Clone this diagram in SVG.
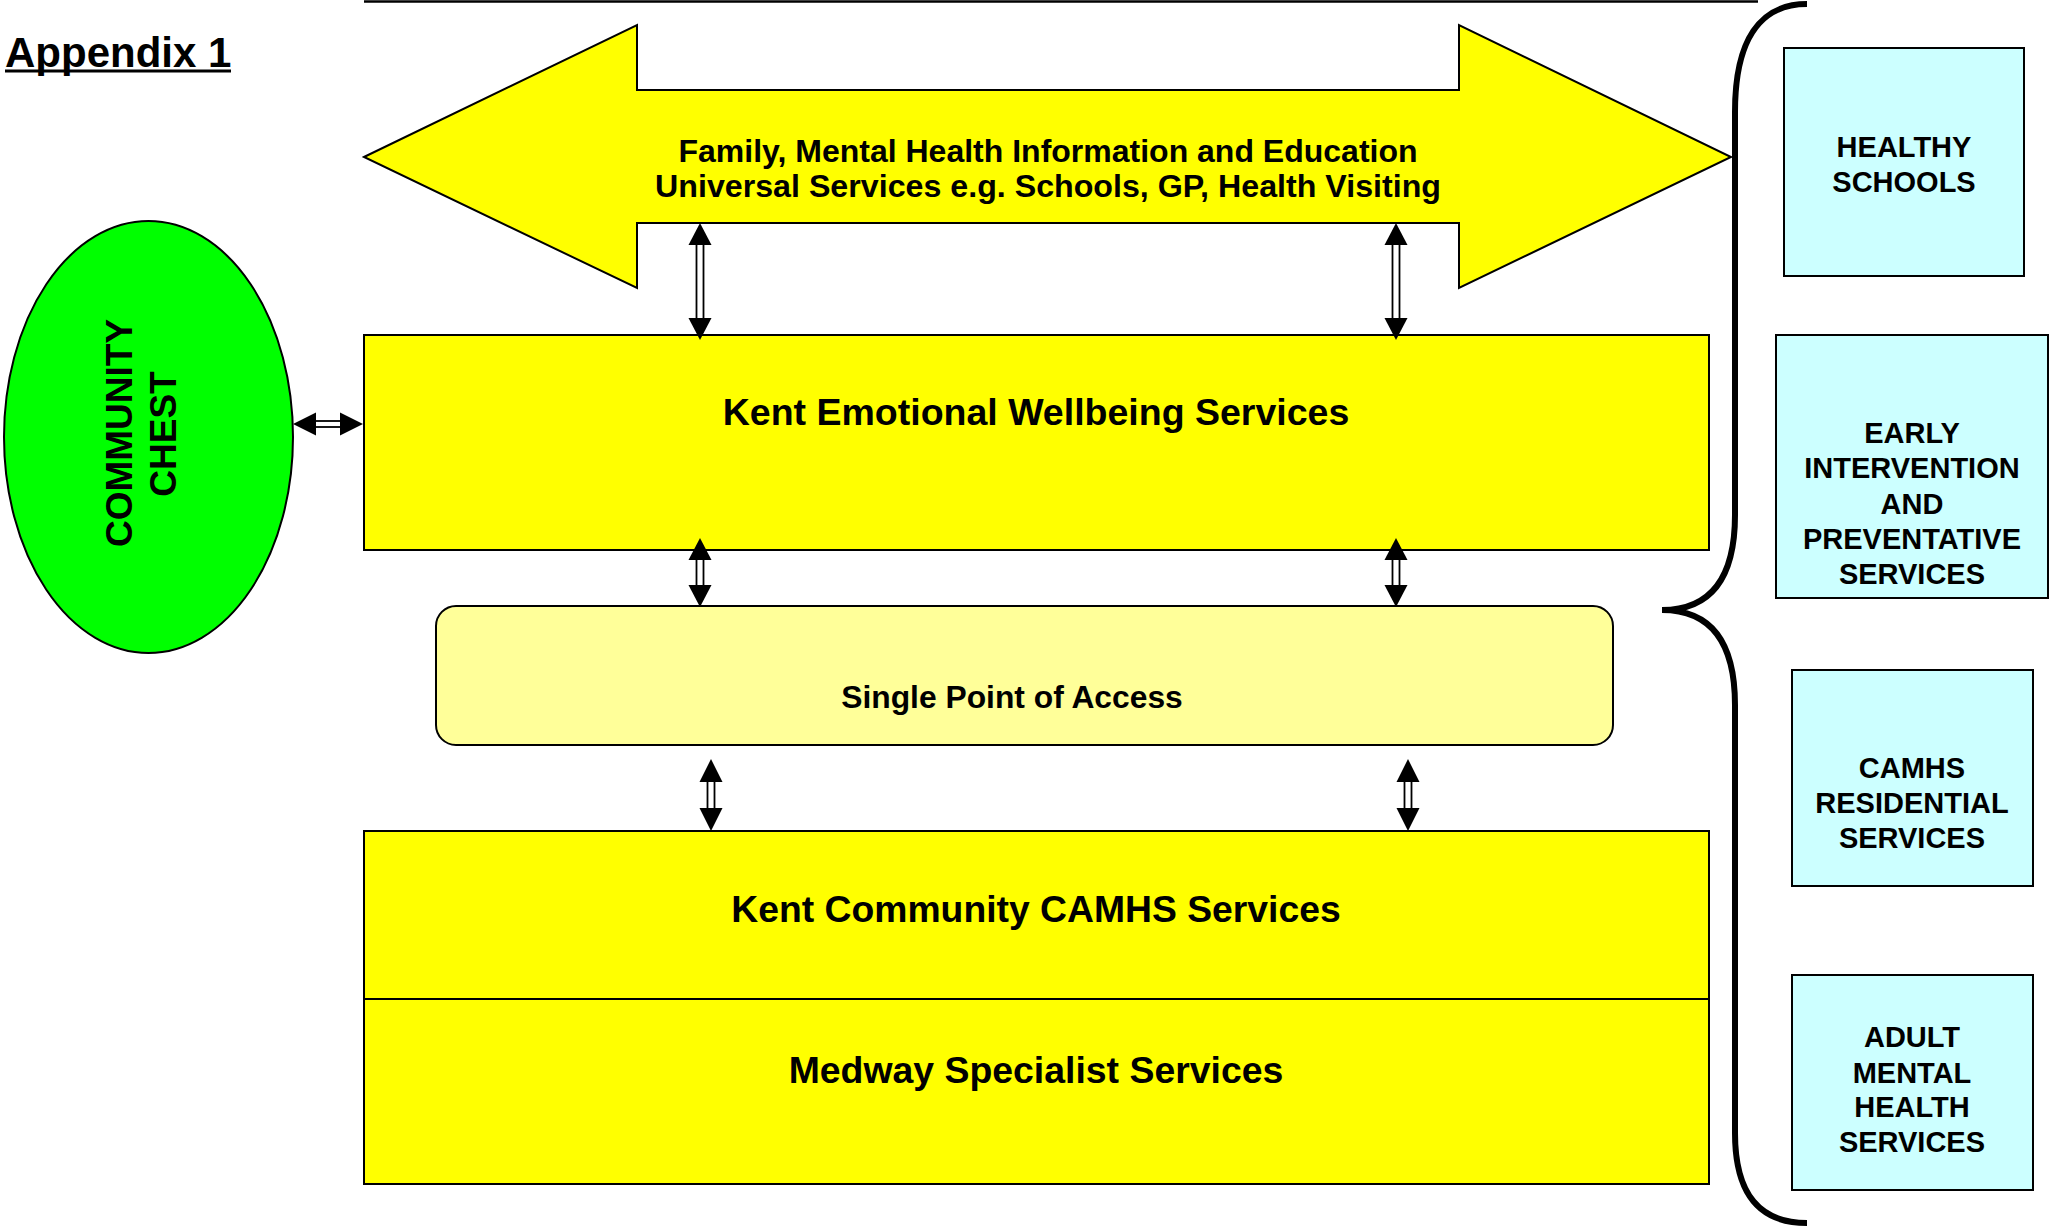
<svg xmlns="http://www.w3.org/2000/svg" width="2049" height="1229" viewBox="0 0 2049 1229">
<style>
text{font-family:"Liberation Sans",Arial,sans-serif;font-weight:bold;fill:#000;}
.yb{fill:#FFFF00;stroke:#000;stroke-width:2;}
.cy{fill:#CCFFFF;stroke:#000;stroke-width:2;}
.hd{fill:#000;stroke:none;}
.sh{fill:#fff;stroke:#000;stroke-width:1.8;}
.mid{text-anchor:middle;}
</style>
<rect width="2049" height="1229" fill="#fff"/>

<g id="title">
<text x="5" y="67" font-size="42">Appendix 1</text>
<line x1="5" y1="71" x2="231" y2="71" stroke="#000" stroke-width="3"/>
</g>

<line x1="364" y1="1.5" x2="1758" y2="1.5" stroke="#000" stroke-width="2.5"/>

<g id="brace">
<path d="M1807 4 C1760 4 1735 40 1735 112 L1735 515 C1735 577 1712 610 1662 610 C1712 610 1735 643 1735 705 L1735 1133 C1735 1195 1760 1223 1807 1223" fill="none" stroke="#000" stroke-width="6"/>
</g>

<g id="universal">
<polygon class="yb" stroke-width="1.6" points="364,157 637,25 637,90 1459,90 1459,25 1731,157 1459,288 1459,223 637,223 637,288"/>
<text class="mid" x="1048" y="162" font-size="32">Family, Mental Health Information and Education</text>
<text class="mid" x="1048" y="197" font-size="32.2">Universal Services e.g. Schools, GP, Health Visiting</text>
</g>

<g id="community-chest">
<ellipse cx="148.5" cy="437" rx="144.5" ry="216" fill="#00FF00" stroke="#000" stroke-width="2"/>
<text class="mid" font-size="37" transform="translate(132,433) rotate(-90)">COMMUNITY</text>
<text class="mid" font-size="37" transform="translate(176,434) rotate(-90)">CHEST</text>
</g>

<g id="kent-emotional">
<rect class="yb" x="364" y="335" width="1345" height="215"/>
<text class="mid" x="1036" y="425" font-size="37.5">Kent Emotional Wellbeing Services</text>
</g>

<g id="single-point">
<rect x="436" y="606" width="1177" height="139" rx="20" ry="20" fill="#FFFF99" stroke="#000" stroke-width="2"/>
<text class="mid" x="1012" y="708" font-size="31.8">Single Point of Access</text>
</g>

<g id="kent-camhs">
<rect class="yb" x="364" y="831" width="1345" height="168"/>
<text class="mid" x="1036" y="922" font-size="37.3">Kent Community CAMHS Services</text>
</g>

<g id="medway">
<rect class="yb" x="364" y="999" width="1345" height="185"/>
<text class="mid" x="1036" y="1083" font-size="37.4">Medway Specialist Services</text>
</g>

<g id="healthy-schools">
<rect class="cy" x="1784" y="48" width="240" height="228"/>
<text class="mid" x="1904" y="157" font-size="29">HEALTHY</text>
<text class="mid" x="1904" y="192" font-size="29">SCHOOLS</text>
</g>

<g id="early-intervention">
<rect class="cy" x="1776" y="335" width="272" height="263"/>
<text class="mid" x="1912" y="443" font-size="29">EARLY</text>
<text class="mid" x="1912" y="478" font-size="29">INTERVENTION</text>
<text class="mid" x="1912" y="514" font-size="29">AND</text>
<text class="mid" x="1912" y="549" font-size="29">PREVENTATIVE</text>
<text class="mid" x="1912" y="584" font-size="29">SERVICES</text>
</g>

<g id="camhs-residential">
<rect class="cy" x="1792" y="670" width="241" height="216"/>
<text class="mid" x="1912" y="778" font-size="29">CAMHS</text>
<text class="mid" x="1912" y="813" font-size="29">RESIDENTIAL</text>
<text class="mid" x="1912" y="848" font-size="29">SERVICES</text>
</g>

<g id="adult-mental-health">
<rect class="cy" x="1792" y="975" width="241" height="215"/>
<text class="mid" x="1912" y="1047" font-size="29">ADULT</text>
<text class="mid" x="1912" y="1083" font-size="29">MENTAL</text>
<text class="mid" x="1912" y="1117" font-size="29">HEALTH</text>
<text class="mid" x="1912" y="1152" font-size="29">SERVICES</text>
</g>

<g id="connectors">
<!-- chest <-> kent emotional -->
<rect class="sh" x="315" y="421" width="27" height="6"/>
<polygon class="hd" points="293,424 316,412.5 316,435.5"/>
<polygon class="hd" points="363,424 340,412.5 340,435.5"/>
<!-- universal <-> kent emotional, left -->
<rect class="sh" x="696.5" y="244" width="7" height="75"/>
<polygon class="hd" points="700,223 688.5,245 711.5,245"/>
<polygon class="hd" points="700,340 688.5,318 711.5,318"/>
<!-- universal <-> kent emotional, right -->
<rect class="sh" x="1392.5" y="244" width="7" height="75"/>
<polygon class="hd" points="1396,223 1384.5,245 1407.5,245"/>
<polygon class="hd" points="1396,340 1384.5,318 1407.5,318"/>
<!-- kent emotional <-> SPA, left -->
<rect class="sh" x="696.5" y="559" width="7" height="28"/>
<polygon class="hd" points="700,538 688.5,560 711.5,560"/>
<polygon class="hd" points="700,607 688.5,585 711.5,585"/>
<!-- kent emotional <-> SPA, right -->
<rect class="sh" x="1392.5" y="559" width="7" height="28"/>
<polygon class="hd" points="1396,538 1384.5,560 1407.5,560"/>
<polygon class="hd" points="1396,607 1384.5,585 1407.5,585"/>
<!-- SPA <-> kent camhs, left -->
<rect class="sh" x="707.5" y="781" width="7" height="30"/>
<polygon class="hd" points="711,759 699.5,782 722.5,782"/>
<polygon class="hd" points="711,831 699.5,808 722.5,808"/>
<!-- SPA <-> kent camhs, right -->
<rect class="sh" x="1404.5" y="781" width="7" height="30"/>
<polygon class="hd" points="1408,759 1396.5,782 1419.5,782"/>
<polygon class="hd" points="1408,831 1396.5,808 1419.5,808"/>
</g>
</svg>
